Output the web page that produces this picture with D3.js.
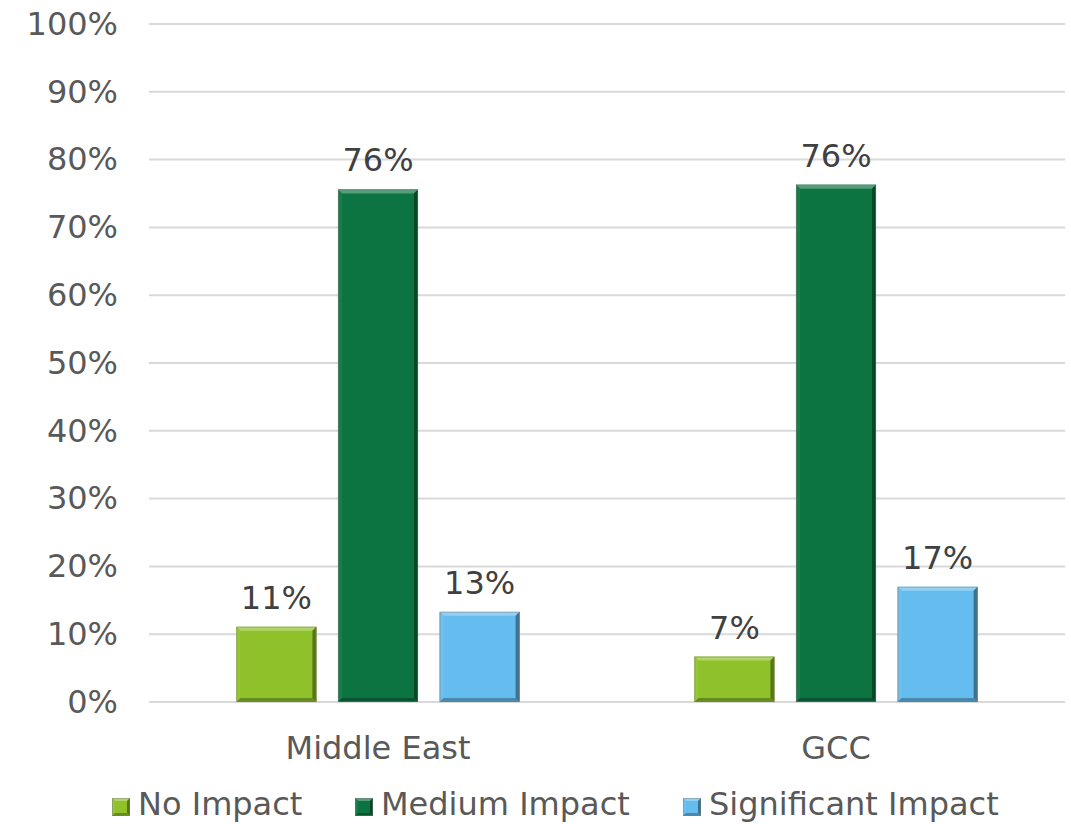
<!DOCTYPE html>
<html>
<head>
<meta charset="utf-8">
<script src="https://cdn.jsdelivr.net/npm/d3@7"></script>
<style>
  html, body { margin: 0; padding: 0; background: #fff; }
  svg { display: block; font-family: "DejaVu Sans", Verdana, sans-serif; }
</style>
</head>
<body>
<svg id="chart" width="1071" height="824"></svg>
<script>
// Regions on the x axis
const categories = ["Middle East", "GCC"];
// Impact levels (series)
const series = ["No Impact", "Medium Impact", "Significant Impact"];
// Share of respondents per impact level, one array per region (fractions)
const middleEast = [0.111, 0.756, 0.133];
const gcc = [0.067, 0.763, 0.170];
// Y-axis ticks
const yTicks = [0, 0.1, 0.2, 0.3, 0.4, 0.5, 0.6, 0.7, 0.8, 0.9, 1.0];

const colors = ["#8fc12b", "#0b7440", "#64bdee"];
const values = [middleEast, gcc];

const W = 1071, H = 824;
const FS = 32;
const margin = { top: 24, right: 6, bottom: 122, left: 149 };
const svg = d3.select("#chart");

const x0 = d3.scaleBand().domain(categories)
  .range([margin.left, W - margin.right]).paddingInner(0).paddingOuter(0);
const x1 = d3.scaleBand().domain(series)
  .range([0, x0.bandwidth()]).paddingInner(0.212).paddingOuter(0.86);
const y = d3.scaleLinear().domain([0, 1]).range([H - margin.bottom, margin.top]);

// Gridlines
svg.append("g").selectAll("line").data(yTicks).join("line")
  .attr("x1", margin.left).attr("x2", W - margin.right)
  .attr("y1", d => y(d)).attr("y2", d => y(d))
  .attr("stroke", "#d9d9d9").attr("stroke-width", 2);

// Y axis labels
const yAxis = d3.axisLeft(y).tickValues(yTicks).tickFormat(d3.format(".0%"))
  .tickSize(0).tickPadding(31);
const ya = svg.append("g").attr("transform", `translate(${margin.left},0)`).call(yAxis);
ya.select(".domain").remove();
ya.selectAll("text").attr("font-size", FS).attr("fill", "#595959")
  .attr("font-family", "DejaVu Sans, Verdana, sans-serif");

// X axis category labels
svg.append("g").selectAll("text").data(categories).join("text")
  .attr("x", d => x0(d) + x0.bandwidth() / 2)
  .attr("y", y(0) + 57)
  .attr("text-anchor", "middle").attr("font-size", FS).attr("fill", "#595959")
  .text(d => d);

// Beveled bar: base fill plus light top/left and dark right/bottom facets
function lighten(c, k) { return d3.interpolateRgb(c, "#ffffff")(k); }
function darken(c, k) { return d3.interpolateRgb(c, "#000000")(k); }
function bevel(g, x, yTop, w, h, color, b) {
  g.append("rect").attr("x", x).attr("y", yTop).attr("width", w).attr("height", h)
    .attr("fill", color);
  const x2 = x + w, y2 = yTop + h;
  const poly = (pts, fill) => g.append("polygon")
    .attr("points", pts.map(p => p.join(",")).join(" ")).attr("fill", fill);
  poly([[x, yTop], [x2, yTop], [x2 - b, yTop + b], [x + b, yTop + b]], lighten(color, 0.3));
  poly([[x, yTop], [x + b, yTop + b], [x + b, y2 - b], [x, y2]], lighten(color, 0.06));
  poly([[x2, yTop], [x2, y2], [x2 - b, y2 - b], [x2 - b, yTop + b]], darken(color, 0.4));
  poly([[x, y2], [x2, y2], [x2 - b, y2 - b], [x + b, y2 - b]], darken(color, 0.28));
  g.append("rect").attr("x", x + 0.5).attr("y", yTop + 0.5)
    .attr("width", w - 1).attr("height", h - 1)
    .attr("fill", "none").attr("stroke", "#7f7f7f").attr("stroke-opacity", 0.45);
}

const fmt = d3.format(".0%");
categories.forEach((cat, ci) => {
  const g = svg.append("g").attr("transform", `translate(${x0(cat)},0)`);
  series.forEach((s, si) => {
    const v = values[ci][si];
    const bx = x1(s), bw = x1.bandwidth();
    bevel(g, bx, y(v), bw, y(0) - y(v), colors[si], 4);
    g.append("text").attr("x", bx + bw / 2).attr("y", y(v) - 18)
      .attr("text-anchor", "middle").attr("font-size", FS).attr("fill", "#404040")
      .text(fmt(v));
  });
});

// Legend
const legendItems = [
  { name: series[0], mx: 112, tx: 138 },
  { name: series[1], mx: 355, tx: 381 },
  { name: series[2], mx: 683, tx: 709 }
];
const lg = svg.append("g");
legendItems.forEach((it, i) => {
  bevel(lg, it.mx, 798, 18, 18, colors[i], 3);
  lg.append("text").attr("x", it.tx).attr("y", 815)
    .attr("font-size", FS).attr("fill", "#595959").text(it.name);
});
</script>
</body>
</html>
